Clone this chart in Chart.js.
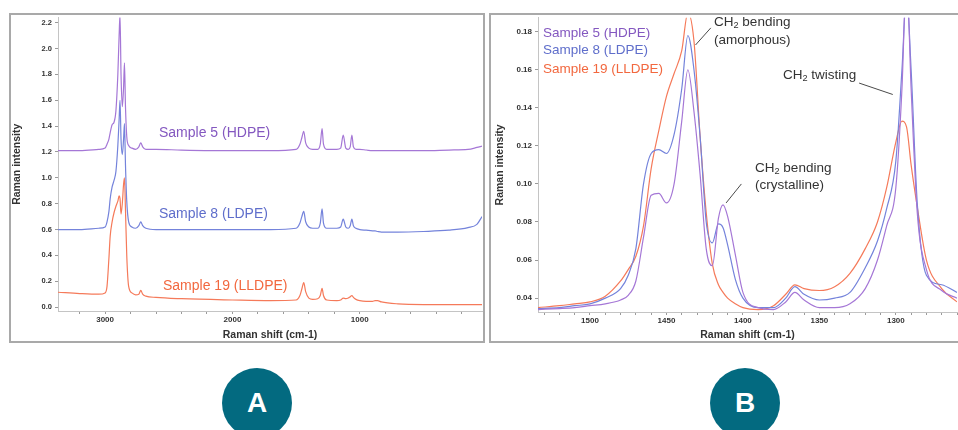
<!DOCTYPE html>
<html>
<head>
<meta charset="utf-8">
<title>Raman spectra of polyethylene</title>
<script src="https://cdn.jsdelivr.net/npm/chart.js@4.4.0/dist/chart.umd.min.js"></script>
<style>
    body { margin: 0; width: 958px; height: 430px; overflow: hidden; background: #fff; position: relative;
           font-family: "Liberation Sans", Arial, sans-serif; }
    .frame { position: absolute; border: 2px solid #a9a9a9; box-sizing: border-box; }
    .plot { position: absolute; }
    .label { position: absolute; white-space: nowrap; line-height: 1; }
    .label sub { font-size: 0.68em; vertical-align: -2px; line-height: 0; }
    .note { color: #333; font-size: 13.5px; }
    .badge { position: absolute; width: 70px; height: 70px; border-radius: 50%; background: #036a80; color: #fff;
             font: bold 28px "Liberation Sans", Arial, sans-serif; text-align: center; line-height: 70px; }
</style>
</head>
<body>

<div class="frame" style="left:9px; top:13px; width:476px; height:330px;"></div>
<div class="frame" style="left:489px; top:13px; width:480px; height:330px;"></div>

<canvas id="panelA" class="plot" width="481" height="332" style="left:2px; top:10px;"></canvas>
<canvas id="panelB" class="plot" width="467" height="332" style="left:491px; top:10px;"></canvas>

<!-- Panel A series labels -->
<div class="label" style="left:159px; top:125px; font-size:14px; color:#8458c0;">Sample 5 (HDPE)</div>
<div class="label" style="left:159px; top:206px; font-size:14px; color:#5f6ecb;">Sample 8 (LDPE)</div>
<div class="label" style="left:163px; top:278px; font-size:14px; color:#f2683f;">Sample 19 (LLDPE)</div>

<!-- Panel B legend -->
<div class="label" style="left:543px; top:26px; font-size:13.5px; color:#8458c0;">Sample 5 (HDPE)</div>
<div class="label" style="left:543px; top:43px; font-size:13.5px; color:#5f6ecb;">Sample 8 (LDPE)</div>
<div class="label" style="left:543px; top:62px; font-size:13.5px; color:#f2683f;">Sample 19 (LLDPE)</div>

<!-- Panel B peak notes -->
<div class="label note" style="left:714px; top:15px;">CH<sub>2</sub> bending</div>
<div class="label note" style="left:714px; top:33px;">(amorphous)</div>
<div class="label note" style="left:783px; top:68px;">CH<sub>2</sub> twisting</div>
<div class="label note" style="left:755px; top:161px;">CH<sub>2</sub> bending</div>
<div class="label note" style="left:755px; top:178px;">(crystalline)</div>

<div class="badge" style="left:222px; top:368px;">A</div>
<div class="badge" style="left:710px; top:368px;">B</div>

<script>
// Full range spectra (panel A), Raman shift in cm-1, stacked with offsets
const shiftA = [3370, 3200, 3050, 3000, 2985, 2970, 2960, 2945, 2930, 2915, 2900, 2890, 2883, 2875, 2865, 2855,
    2848, 2840, 2830, 2815, 2790, 2760, 2735, 2720, 2705, 2680, 2600, 2400, 2000, 1700, 1500, 1470, 1455, 1440,
    1425, 1400, 1370, 1330, 1310, 1296, 1285, 1260, 1180, 1150, 1130, 1110, 1090, 1075, 1062, 1050, 1030, 1000,
    950, 900, 880, 860, 830, 700, 500, 300, 150, 80, 40];
const hdpeA = [1.21, 1.21, 1.22, 1.23, 1.26, 1.30, 1.35, 1.41, 1.43, 1.52, 1.80, 2.10, 2.26, 1.80, 1.55, 1.70,
    1.89, 1.55, 1.32, 1.25, 1.23, 1.22, 1.24, 1.27, 1.24, 1.22, 1.22, 1.215, 1.21, 1.21, 1.22, 1.26, 1.31, 1.36,
    1.27, 1.23, 1.22, 1.22, 1.26, 1.38, 1.26, 1.22, 1.22, 1.23, 1.33, 1.23, 1.22, 1.24, 1.33, 1.24, 1.22, 1.22,
    1.215, 1.21, 1.21, 1.21, 1.21, 1.21, 1.21, 1.215, 1.22, 1.235, 1.245];
const ldpeA = [0.60, 0.60, 0.61, 0.62, 0.66, 0.74, 0.84, 0.93, 0.98, 1.05, 1.25, 1.45, 1.60, 1.30, 1.18, 1.30,
    1.42, 1.10, 0.82, 0.66, 0.62, 0.61, 0.63, 0.66, 0.63, 0.61, 0.60, 0.60, 0.60, 0.60, 0.61, 0.65, 0.70, 0.74,
    0.66, 0.62, 0.61, 0.61, 0.65, 0.76, 0.65, 0.61, 0.61, 0.62, 0.68, 0.62, 0.61, 0.63, 0.68, 0.63, 0.61, 0.60,
    0.595, 0.59, 0.59, 0.585, 0.58, 0.58, 0.585, 0.595, 0.615, 0.64, 0.70];
const lldpeA = [0.115, 0.105, 0.10, 0.11, 0.16, 0.38, 0.55, 0.66, 0.73, 0.78, 0.82, 0.86, 0.84, 0.72, 0.80, 0.95,
    1.00, 0.75, 0.40, 0.16, 0.11, 0.095, 0.10, 0.13, 0.10, 0.085, 0.075, 0.065, 0.055, 0.05, 0.055, 0.09, 0.14, 0.19,
    0.12, 0.07, 0.06, 0.065, 0.09, 0.145, 0.09, 0.055, 0.05, 0.055, 0.07, 0.065, 0.07, 0.08, 0.09, 0.075, 0.06, 0.05,
    0.045, 0.045, 0.05, 0.05, 0.04, 0.025, 0.02, 0.02, 0.02, 0.02, 0.02];

// CH2 bending / twisting region (panel B)
const shiftB = [1534, 1520, 1510, 1500, 1490, 1480, 1475, 1470, 1465, 1460, 1455, 1450, 1445, 1440, 1436, 1432,
    1428, 1424, 1420, 1416, 1413, 1410, 1405, 1400, 1390, 1380, 1372, 1366, 1360, 1350, 1340, 1330, 1320, 1312,
    1306, 1300, 1296, 1293, 1290, 1286, 1280, 1270, 1260];
const hdpeB = [0.034, 0.0345, 0.035, 0.036, 0.037, 0.039, 0.0415, 0.049, 0.072, 0.094, 0.095, 0.090, 0.100, 0.133,
    0.160, 0.138, 0.105, 0.066, 0.057, 0.082, 0.089, 0.083, 0.063, 0.043, 0.035, 0.034, 0.038, 0.043, 0.039, 0.035,
    0.035, 0.037, 0.045, 0.060, 0.078, 0.098, 0.150, 0.210, 0.150, 0.085, 0.055, 0.044, 0.040];
const ldpeB = [0.0345, 0.035, 0.036, 0.037, 0.040, 0.045, 0.052, 0.066, 0.100, 0.116, 0.118, 0.116, 0.126, 0.150,
    0.178, 0.160, 0.125, 0.080, 0.069, 0.079, 0.077, 0.068, 0.050, 0.040, 0.035, 0.035, 0.040, 0.046, 0.042, 0.039,
    0.040, 0.043, 0.056, 0.070, 0.087, 0.112, 0.160, 0.200, 0.160, 0.090, 0.052, 0.047, 0.043];
const lldpeB = [0.035, 0.036, 0.037, 0.038, 0.041, 0.049, 0.055, 0.062, 0.078, 0.108, 0.128, 0.146, 0.158, 0.170,
    0.190, 0.175, 0.125, 0.085, 0.058, 0.047, 0.043, 0.040, 0.037, 0.035, 0.034, 0.036, 0.042, 0.047, 0.045, 0.044,
    0.046, 0.053, 0.066, 0.080, 0.098, 0.122, 0.133, 0.130, 0.110, 0.088, 0.060, 0.045, 0.038];

const seriesNames = ['Sample 5 (HDPE)', 'Sample 8 (LDPE)', 'Sample 19 (LLDPE)'];
const seriesColors = ['#a577d6', '#7483db', '#f57a5a'];

// Tick labels that carry text (the other tick marks stay blank)
const labelTicksA = [3000, 2000, 1000];
const labelTicksB = [1500, 1450, 1400, 1350, 1300];

// Leader lines for the notes in panel B, in data units [shift, intensity]
const leadersB = [
    { from: [1431, 0.173], to: [1421, 0.182] },
    { from: [1302, 0.147], to: [1324, 0.153] },
    { from: [1411, 0.090], to: [1401, 0.100] }
];

Chart.defaults.font.family = '"Liberation Sans", Arial, sans-serif';
Chart.defaults.color = '#333';

class SpectraFigure {
    constructor() {
        this.charts = {};
        this.init();
    }

    init() {
        this.charts.a = this.buildPanel('panelA', {
            shift: shiftA,
            series: [hdpeA, ldpeA, lldpeA],
            x: { min: 40, max: 3370, step: 200, labels: labelTicksA, height: 31 },
            y: { min: -0.03, max: 2.24, step: 0.2, digits: 1, width: 56, titlePad: 8.7, fontSize: 7.5 },
            padRight: 1
        });

        this.charts.b = this.buildPanel('panelB', {
            shift: shiftB,
            series: [hdpeB, ldpeB, lldpeB],
            x: { min: 1260, max: 1534, step: 10, labels: labelTicksB, height: 30 },
            y: { min: 0.0327, max: 0.1873, step: 0.02, digits: 2, width: 47, titlePad: 2.7, fontSize: 8 },
            padRight: 0,
            leaders: leadersB
        });
    }

    buildPanel(canvasId, cfg) {
        const canvas = document.getElementById(canvasId);

        const datasets = cfg.series.map((values, i) => ({
            label: seriesNames[i],
            data: cfg.shift.map((s, k) => ({ x: s, y: values[k] })),
            borderColor: seriesColors[i],
            borderWidth: 1.2,
            pointRadius: 0,
            cubicInterpolationMode: 'monotone',
            fill: false
        }));

        const titleFont = { size: 10.5, weight: 'bold' };

        return new Chart(canvas, {
            type: 'line',
            data: { datasets },
            options: {
                responsive: false,
                animation: false,
                layout: { padding: { top: 5, right: cfg.padRight, left: 0, bottom: 0 } },
                plugins: { legend: { display: false }, tooltip: { enabled: false } },
                scales: {
                    x: {
                        type: 'linear',
                        reverse: true,
                        min: cfg.x.min,
                        max: cfg.x.max,
                        afterFit: scale => { scale.height = cfg.x.height; },
                        border: { color: '#c4c4c4', dash: [2, 2] },
                        grid: { drawOnChartArea: false, tickLength: 3, color: '#9a9a9a' },
                        ticks: {
                            stepSize: cfg.x.step,
                            autoSkip: false,
                            maxRotation: 0,
                            includeBounds: false,
                            padding: 1,
                            font: { size: 8, weight: 'bold' },
                            callback: v => cfg.x.labels.includes(Math.round(v)) ? String(Math.round(v)) : ''
                        },
                        title: {
                            display: true,
                            text: 'Raman shift (cm-1)',
                            font: titleFont,
                            padding: { top: 0, bottom: 0.7 }
                        }
                    },
                    y: {
                        min: cfg.y.min,
                        max: cfg.y.max,
                        afterFit: scale => { scale.width = cfg.y.width; },
                        border: { color: '#c4c4c4', dash: [2, 2] },
                        grid: { drawOnChartArea: false, tickLength: 3, color: '#9a9a9a' },
                        ticks: {
                            stepSize: cfg.y.step,
                            includeBounds: false,
                            padding: 3,
                            font: { size: cfg.y.fontSize, weight: 'bold' },
                            callback: v => v.toFixed(cfg.y.digits)
                        },
                        title: {
                            display: true,
                            text: 'Raman intensity',
                            font: titleFont,
                            padding: { top: cfg.y.titlePad, bottom: 0 }
                        }
                    }
                }
            },
            plugins: [this.leaderPlugin(cfg.leaders || [])]
        });
    }

    // Short grey lines that tie each note to its peak
    leaderPlugin(leaders) {
        return {
            id: 'leaders',
            afterDatasetsDraw(chart) {
                const { ctx, scales } = chart;
                ctx.save();
                ctx.strokeStyle = '#4a4a4a';
                ctx.lineWidth = 1;
                leaders.forEach(l => {
                    ctx.beginPath();
                    ctx.moveTo(scales.x.getPixelForValue(l.from[0]), scales.y.getPixelForValue(l.from[1]));
                    ctx.lineTo(scales.x.getPixelForValue(l.to[0]), scales.y.getPixelForValue(l.to[1]));
                    ctx.stroke();
                });
                ctx.restore();
            }
        };
    }
}

window.spectraFigure = new SpectraFigure();
</script>
</body>
</html>
